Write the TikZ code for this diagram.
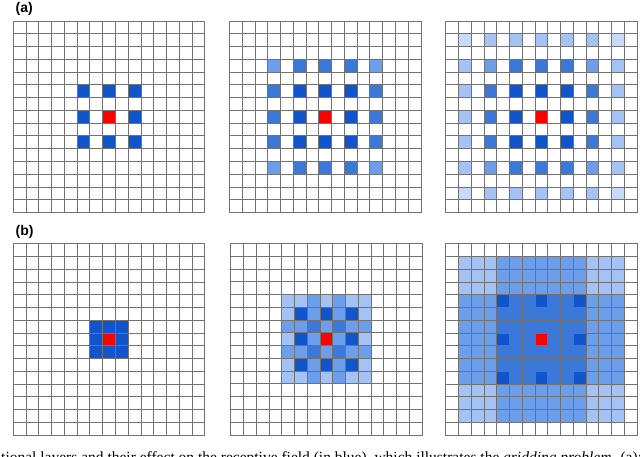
\documentclass[tikz,border=0pt]{standalone}
\usepackage{fontspec}
\setmainfont{Liberation Serif}
\newfontfamily\labelfont{Liberation Sans}
\definecolor{dkB}{HTML}{1155CC}
\definecolor{mdB}{HTML}{3C78D8}
\definecolor{ltA}{HTML}{6D9EEB}
\definecolor{ltB}{HTML}{A4C2F4}
\definecolor{ltC}{HTML}{C9DAF8}
\definecolor{gridgray}{HTML}{727272}
\def\cellsz{12.77}
% #1 ox, #2 oy, #3 col, #4 row, #5 colour
\newcommand\cellat[5]{\fill[#5] ({#1+#3*\cellsz},{#2+#4*\cellsz}) rectangle ++(\cellsz,\cellsz);}
\newcommand\drawgridat[2]{%
  \foreach \i in {0,...,15} {%
    \draw[gridline] ({#1+\i*\cellsz},#2) -- ++(0,{15*\cellsz});
    \draw[gridline] (#1,{#2+\i*\cellsz}) -- ++({15*\cellsz},0);
  }}
\begin{document}
\begin{tikzpicture}[x=1pt,y=-1pt,
  gridline/.style={draw=gridgray, line width=1pt, line cap=rect},
  panellabel/.style={font=\labelfont\bfseries\fontsize{14}{16}\selectfont, anchor=west, inner sep=0pt},
  captext/.style={font=\fontsize{15.5}{17}\selectfont, anchor=base west, inner sep=0pt}]
\useasboundingbox (0,0) rectangle (640,456);
\clip (0,0) rectangle (640,456);
\fill[white] (0,0) rectangle (640,456);

% ---------- (a) panel 1 ----------
\foreach \c/\r in {5/5,7/5,9/5,5/7,9/7,5/9,7/9,9/9} {\cellat{13.3}{21}{\c}{\r}{dkB}}
\cellat{13.3}{21}{7}{7}{red}
\drawgridat{13.3}{21}

% ---------- (a) panel 2 ----------
\foreach \c in {5,7,9} {\foreach \r in {5,7,9} {\cellat{229.5}{21}{\c}{\r}{dkB}}}
\foreach \a in {5,7,9} {\cellat{229.5}{21}{3}{\a}{mdB}\cellat{229.5}{21}{11}{\a}{mdB}\cellat{229.5}{21}{\a}{3}{mdB}\cellat{229.5}{21}{\a}{11}{mdB}}
\foreach \a in {3,11} {\foreach \b in {3,11} {\cellat{229.5}{21}{\a}{\b}{ltA}}}
\cellat{229.5}{21}{7}{7}{red}
\drawgridat{229.5}{21}

% ---------- (a) panel 3 ----------
\foreach \c in {5,7,9} {\foreach \r in {5,7,9} {\cellat{445.7}{21}{\c}{\r}{dkB}}}
\foreach \a in {5,7,9} {\cellat{445.7}{21}{3}{\a}{mdB}\cellat{445.7}{21}{11}{\a}{mdB}\cellat{445.7}{21}{\a}{3}{mdB}\cellat{445.7}{21}{\a}{11}{mdB}}
\foreach \a in {3,11} {\foreach \b in {3,11} {\cellat{445.7}{21}{\a}{\b}{ltA}}}
\foreach \a in {3,5,7,9,11} {\cellat{445.7}{21}{1}{\a}{ltB}\cellat{445.7}{21}{13}{\a}{ltB}\cellat{445.7}{21}{\a}{1}{ltB}\cellat{445.7}{21}{\a}{13}{ltB}}
\foreach \a in {1,13} {\foreach \b in {1,13} {\cellat{445.7}{21}{\a}{\b}{ltC}}}
\cellat{445.7}{21}{7}{7}{red}
\drawgridat{445.7}{21}

% ---------- (b) panel 1 ----------
\foreach \c in {6,7,8} {\foreach \r in {6,7,8} {\cellat{13.3}{243.7}{\c}{\r}{dkB}}}
\cellat{13.3}{243.7}{7}{7}{red}
\drawgridat{13.3}{243.7}

% ---------- (b) panel 2 ----------
\foreach \c in {4,...,10} {\foreach \r in {4,...,10} {\cellat{230.7}{243.5}{\c}{\r}{ltB}}}
\foreach \a in {6,8} {\foreach \b in {4,...,10} {\cellat{230.7}{243.5}{\a}{\b}{ltA}\cellat{230.7}{243.5}{\b}{\a}{ltA}}}
\foreach \c in {6,8} {\foreach \r in {6,8} {\cellat{230.7}{243.5}{\c}{\r}{mdB}}}
\foreach \c in {5,7,9} {\foreach \r in {5,7,9} {\cellat{230.7}{243.5}{\c}{\r}{dkB}}}
\cellat{230.7}{243.5}{7}{7}{red}
\drawgridat{230.7}{243.5}

% ---------- (b) panel 3 ----------
\foreach \c in {1,...,13} {\foreach \r in {1,...,13} {\cellat{445.7}{243.7}{\c}{\r}{ltB}}}
\foreach \a in {4,...,10} {\foreach \b in {1,...,13} {\cellat{445.7}{243.7}{\a}{\b}{ltA}\cellat{445.7}{243.7}{\b}{\a}{ltA}}}
\foreach \c in {4,...,10} {\foreach \r in {4,...,10} {\cellat{445.7}{243.7}{\c}{\r}{mdB}}}
\foreach \c in {4,7,10} {\foreach \r in {4,7,10} {\cellat{445.7}{243.7}{\c}{\r}{dkB}}}
\cellat{445.7}{243.7}{7}{7}{red}
\drawgridat{445.7}{243.7}

% ---------- labels ----------
\node[panellabel] (la) at (15.5,9) {(a)};
\node[panellabel] (lb) at (15.5,231.5) {(b)};

% ---------- clipped caption (cut off at the lower edge, as in the reference) ----------
\node[captext] (cap) at (1,462.6) {tional layers and their effect on the receptive field (in blue), which illustrates the \textit{gridding problem}. (a): Each};
\end{tikzpicture}
\end{document}
